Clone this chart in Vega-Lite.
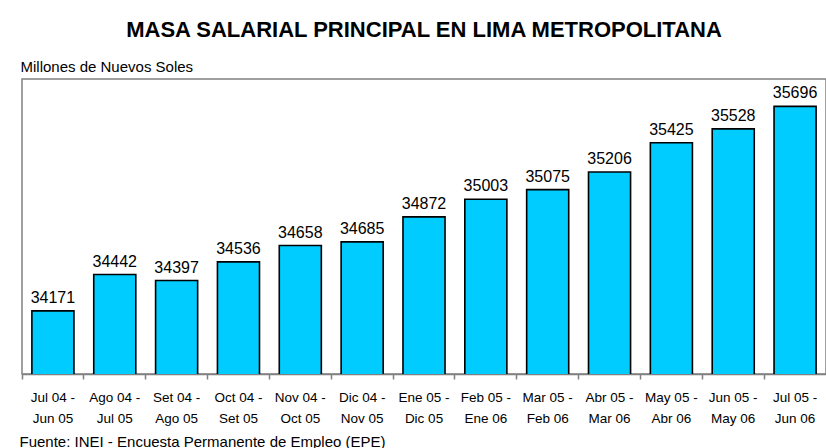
{
  "$schema": "https://vega.github.io/schema/vega-lite/v6.json",
  "autosize": {"type": "none"},
  "width": 804,
  "height": 295,
  "padding": {"left": 22, "top": 79, "right": 0, "bottom": 74},
  "background": "white",
  "title": {
    "text": "MASA SALARIAL PRINCIPAL EN LIMA METROPOLITANA",
    "anchor": "middle",
    "frame": "group",
    "font": "Liberation Sans",
    "fontSize": 22,
    "fontWeight": "bold",
    "color": "black",
    "offset": 17
  },
  "data": {
    "values": [
      {"periodo": "Jul 04 - Jun 05", "masa": 34171},
      {"periodo": "Ago 04 - Jul 05", "masa": 34442},
      {"periodo": "Set 04 - Ago 05", "masa": 34397},
      {"periodo": "Oct 04 - Set 05", "masa": 34536},
      {"periodo": "Nov 04 - Oct 05", "masa": 34658},
      {"periodo": "Dic 04 - Nov 05", "masa": 34685},
      {"periodo": "Ene 05 - Dic 05", "masa": 34872},
      {"periodo": "Feb 05 - Ene 06", "masa": 35003},
      {"periodo": "Mar 05 - Feb 06", "masa": 35075},
      {"periodo": "Abr 05 - Mar 06", "masa": 35206},
      {"periodo": "May 05 - Abr 06", "masa": 35425},
      {"periodo": "Jun 05 - May 06", "masa": 35528},
      {"periodo": "Jul 05 - Jun 06", "masa": 35696}
    ]
  },
  "encoding": {
    "x": {
      "field": "periodo",
      "type": "nominal",
      "sort": null,
      "scale": {"paddingInner": 0, "paddingOuter": 0},
      "axis": {
        "title": "Fuente: INEI - Encuesta Permanente de Empleo (EPE)",
        "titleFont": "Liberation Sans",
        "titleFontSize": 15,
        "titleFontWeight": "normal",
        "titleColor": "black",
        "titleAnchor": "start",
        "titleAlign": "left",
        "titleBaseline": "alphabetic",
        "titleX": -3,
        "titleY": 72,
        "labelExpr": "[slice(datum.value, 0, 8), slice(datum.value, 9)]",
        "labelAngle": 0,
        "labelFont": "Liberation Sans",
        "labelFontSize": 13.5,
        "labelColor": "black",
        "labelLineHeight": 21,
        "labelBaseline": "top",
        "labelPadding": 11,
        "bandPosition": 0,
        "ticks": true,
        "tickSize": 5,
        "tickColor": "#808080",
        "tickWidth": 1.5,
        "domain": true,
        "domainColor": "#808080",
        "domainWidth": 1.5,
        "grid": false
      }
    },
    "y": {
      "field": "masa",
      "type": "quantitative",
      "scale": {"domain": [33700, 35900], "zero": false, "nice": false},
      "axis": {
        "title": "Millones de Nuevos Soles",
        "titleFont": "Liberation Sans",
        "titleFontSize": 15,
        "titleFontWeight": "normal",
        "titleColor": "black",
        "titleAngle": 0,
        "titleAlign": "left",
        "titleBaseline": "middle",
        "titleX": -2,
        "titleY": -13,
        "labels": false,
        "ticks": false,
        "domain": false,
        "grid": false
      }
    }
  },
  "layer": [
    {
      "mark": {
        "type": "bar",
        "fill": "#00CCFF",
        "stroke": "black",
        "strokeWidth": 1.6,
        "width": {"band": 0.68},
        "clip": true
      }
    },
    {
      "mark": {
        "type": "text",
        "baseline": "bottom",
        "dy": -5,
        "font": "Liberation Sans",
        "fontSize": 16,
        "color": "black"
      },
      "encoding": {"text": {"field": "masa", "type": "quantitative", "format": "d"}}
    }
  ],
  "config": {
    "view": {"stroke": "#808080", "strokeWidth": 1.5}
  }
}
